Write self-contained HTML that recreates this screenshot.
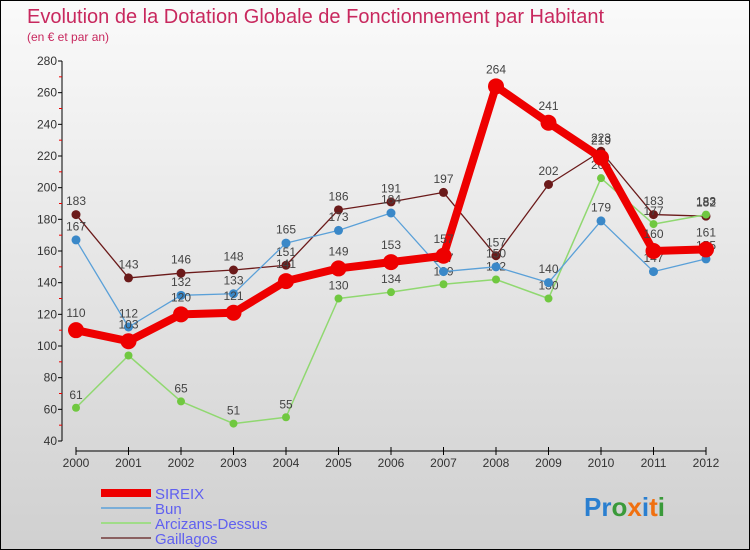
<!DOCTYPE html>
<html><head><meta charset="utf-8"><style>
body{margin:0}
#c{width:750px;height:550px;position:relative;box-sizing:border-box;border:1px solid #000;background:linear-gradient(#fafafa,#d0d0d0);font-family:"Liberation Sans",sans-serif;overflow:hidden}
svg{position:absolute;left:0;top:0}
</style></head><body>
<div id="c">
<svg id="s" width="750" height="550">
<text x="26" y="22" font-size="20" fill="#c8285e">Evolution de la Dotation Globale de Fonctionnement par Habitant</text>
<text x="26" y="40" font-size="12" fill="#c8285e">(en € et par an)</text>
<g id="axes"></g><g id="series"></g><g id="legend"></g>
<text x="583" y="515" font-size="26" font-weight="bold"><tspan fill="#2a7fd0">Pr</tspan><tspan fill="#3a9a3a">o</tspan><tspan fill="#f07010">x</tspan><tspan fill="#2a7fd0">i</tspan><tspan fill="#f07010">t</tspan><tspan fill="#3a9a3a">i</tspan></text>
</svg></div>
<script>
const years=[2000,2001,2002,2003,2004,2005,2006,2007,2008,2009,2010,2011,2012];
const sireix=[110,103,120,121,141,149,153,157,264,241,219,160,161];
const bun=[167,112,132,133,165,173,184,147,150,140,179,147,155];
const arcizans=[61,94,65,51,55,130,134,139,142,130,206,177,183];
const gaillagos=[183,143,146,148,151,186,191,197,157,202,223,183,182];
const yTicks=[40,60,80,100,120,140,160,180,200,220,240,260,280];
const NS="http://www.w3.org/2000/svg";
const x=i=>75+i*52.5, y=v=>440-(v-40)*380/240;
function mk(t,a,p){const e=document.createElementNS(NS,t);for(const k in a)e.setAttribute(k,a[k]);p.appendChild(e);return e;}
const ax=document.getElementById('axes');
let l=mk('line',{x1:61,y1:60,x2:61,y2:440,stroke:'#000'},ax);


l=mk('line',{x1:75,y1:450,x2:705,y2:450,stroke:'#000'},ax);


yTicks.forEach((v,i)=>{
 mk('line',{x1:57,y1:y(v),x2:61,y2:y(v),stroke:'#000'},ax);
 if(i<yTicks.length-1) mk('line',{x1:58,y1:y(v+10),x2:61,y2:y(v+10),stroke:'#e00'},ax);
 const t=mk('text',{x:56,y:y(v)+4,'font-size':12,fill:'#333','text-anchor':'end'},ax);t.textContent=v;
 
 
});
years.forEach((yr,i)=>{
 mk('line',{x1:x(i),y1:446,x2:x(i),y2:454,stroke:'#000'},ax);
 const t=mk('text',{x:x(i),y:466,'font-size':12,fill:'#333','text-anchor':'middle'},ax);t.textContent=yr;
 
 
});
const sg=document.getElementById('series');
const defs=[
 {d:gaillagos,c:'#6b1a1a',w:1.3,r:4.5,n:'gaillagos'},
 {d:arcizans,c:'#90d870',w:1.5,r:4,n:'arcizans-dessus',f:'#70c840'},
 {d:bun,c:'#5aa0d8',w:1.3,r:4.5,n:'bun',f:'#3a88c8'},
 {d:sireix,c:'#ee0000',w:8,r:8,n:'sireix'}];
defs.forEach(s=>{
 const g=mk('g',{},sg);
 
 
 const p=mk('polyline',{points:s.d.map((v,i)=>x(i)+','+y(v)).join(' '),fill:'none',stroke:s.c,'stroke-width':s.w,'stroke-linejoin':'round'},g);
 
 
 s.d.forEach((v,i)=>{
  const c=mk('circle',{cx:x(i),cy:y(v),r:s.r,fill:s.f||s.c},g);
  
  
  const t=mk('text',{x:x(i),y:y(v)-s.r-5,'font-size':12,fill:'#444','text-anchor':'middle'},g);t.textContent=v;
  
  
 });
});
const lg=document.getElementById('legend');
[['SIREIX','#ee0000',8],['Bun','#7aaed8',2],['Arcizans-Dessus','#a0dc88',2],['Gaillagos','#8a6060',2]].forEach((e,i)=>{
 const yy=492+i*15;
 const g=mk('g',{},lg);
 
 
 mk('line',{x1:100,y1:yy,x2:150,y2:yy,stroke:e[1],'stroke-width':e[2]},g);
 const t=mk('text',{x:154,y:yy+6,'font-size':15,fill:'#6060f0'},g);t.textContent=e[0];
});
</script></body></html>
